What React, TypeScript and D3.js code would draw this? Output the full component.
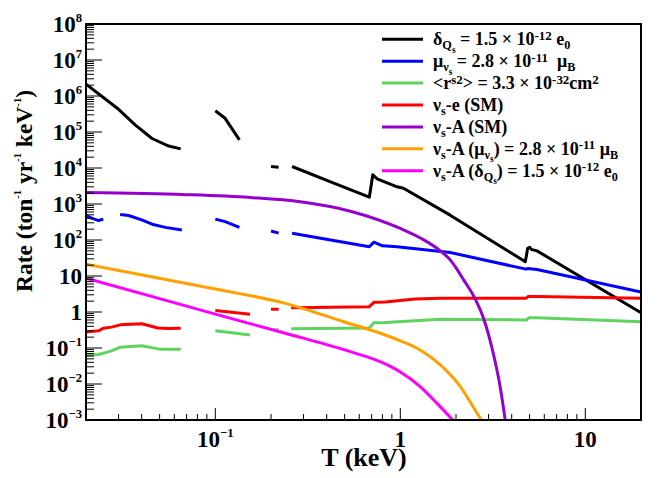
import * as d3 from 'd3';

type Pt = [number, number] | null;
type Part = [string, number];

const xDomain: [number, number] = [0.02, 20];
const yDomain: [number, number] = [1e-3, 1e8];
const xMajorTicks = [0.1, 1, 10];
const yMajorExps = [8, 7, 6, 5, 4, 3, 2, 1, 0, -1, -2, -3];

// [T (keV), rate]; null = gap in the curve
const chargeRate: Pt[] = [
  [0.02, 2.14e6], [0.03, 4.27e5], [0.037, 1.55e5], [0.0455, 6.6e4], [0.056, 4.07e4], [0.065, 3.39e4],
  null,
  [0.1, 3.89e5], [0.113, 2.4e5], [0.135, 6.03e4],
  null,
  [0.2, 1.1e4], [0.22, 1.05e4],
  null,
  [0.26, 1.1e4], [0.42, 4.1e3], [0.68, 1.55e3], [0.71, 6.5e3], [0.75, 5.0e3], [0.96, 3.0e3], [1.04, 2.75e3],
  [1.86, 490], [4.74, 25], [4.88, 59], [5.0, 63], [5.1, 55], [5.48, 50], [20, 0.95],
];

const momentRate: Pt[] = [
  [0.02, 479], [0.0216, 398], [0.0234, 347], [0.0248, 380],
  null,
  [0.0306, 513], [0.034, 479], [0.04, 363], [0.0455, 275], [0.0537, 224], [0.066, 190],
  null,
  [0.1, 380], [0.113, 324], [0.135, 224],
  null,
  [0.2, 178], [0.22, 155],
  null,
  [0.26, 155], [0.68, 65], [0.72, 87], [0.8, 69], [0.96, 65], [1.86, 45], [4.79, 15.5], [4.9, 16.2], [5.48, 15.1], [20, 3.6],
];

const radiusRate: Pt[] = [
  [0.02, 0.062], [0.0234, 0.066], [0.0275, 0.083], [0.0306, 0.105], [0.04, 0.115], [0.05, 0.093], [0.065, 0.093],
  null,
  [0.1, 0.3], [0.154, 0.23],
  null,
  [0.2, 0.32], [0.22, 0.32],
  null,
  [0.257, 0.34], [0.68, 0.36], [0.72, 0.5], [0.83, 0.51], [1.645, 0.63], [4.79, 0.6], [4.95, 0.69], [5.48, 0.69], [20, 0.54],
];

const electronSM: Pt[] = [
  [0.02, 0.28], [0.0234, 0.3], [0.0248, 0.355], [0.0275, 0.38], [0.0306, 0.44], [0.04, 0.47], [0.049, 0.36], [0.056, 0.35], [0.065, 0.355],
  null,
  [0.1, 1.1], [0.154, 0.87],
  null,
  [0.2, 1.2], [0.22, 1.2],
  null,
  [0.257, 1.32], [0.68, 1.41], [0.72, 1.86], [0.83, 1.9], [1.2, 2.3], [1.645, 2.4], [4.79, 2.4], [4.9, 2.7], [5.48, 2.7], [20, 2.4],
];

const nucleusSM: Pt[] = [
  [0.02, 2090], [0.069, 1820], [0.154, 1510], [0.288, 1150], [0.537, 630], [1.0, 209], [1.3, 110],
  [1.645, 50], [1.86, 28], [2.03, 15.1], [2.2, 7.8], [2.54, 2.3], [2.82, 0.66], [3.13, 0.1], [3.47, 0.008], [3.69, 0.001],
];

const nucleusMoment: Pt[] = [
  [0.02, 21.4], [0.1, 4.35], [0.239, 1.74], [0.504, 0.52], [0.83, 0.23], [1.0, 0.158], [1.28, 0.088], [1.645, 0.034],
  [2.11, 0.0085], [2.48, 0.0023], [2.74, 0.001],
];

const nucleusCharge: Pt[] = [
  [0.02, 8.7], [0.1, 0.87], [0.239, 0.257], [0.504, 0.087], [0.83, 0.036], [1.0, 0.0215], [1.28, 0.0085], [1.58, 0.0029], [1.92, 0.001],
];

const legendParts: Part[][] = [
  [['δ', 0], ['Q', -1], ['s', -2], [' = 1.5 × 10', 0], ['-12', 1], [' e', 0], ['0', -1]],
  [['μ', 0], ['ν', -1], ['s', -2], [' = 2.8 × 10', 0], ['-11', 1], ['  μ', 0], ['B', -1]],
  [['<r', 0], ['s2', 1], ['> = 3.3 × 10', 0], ['-32', 1], ['cm', 0], ['2', 1]],
  [['ν', 0], ['s', -1], ['-e (SM)', 0]],
  [['ν', 0], ['s', -1], ['-A (SM)', 0]],
  [['ν', 0], ['s', -1], ['-A (μ', 0], ['ν', -1], ['s', -2], [') = 2.8 × 10', 0], ['-11', 1], [' μ', 0], ['B', -1]],
  [['ν', 0], ['s', -1], ['-A (δ', 0], ['Q', -1], ['s', -2], [') = 1.5 × 10', 0], ['-12', 1], [' e', 0], ['0', -1]],
];

const series = [
  { data: chargeRate, color: '#000000', smooth: false },
  { data: momentRate, color: '#0000ff', smooth: false },
  { data: radiusRate, color: '#5fd35f', smooth: false },
  { data: electronSM, color: '#ff0000', smooth: false },
  { data: nucleusSM, color: '#9400cc', smooth: true },
  { data: nucleusMoment, color: '#ffa000', smooth: true },
  { data: nucleusCharge, color: '#ff00ff', smooth: true },
];

const FONT = "'Liberation Serif', 'Times New Roman', serif";

type Script = { supSize: number; supRise: number; subSize: number; subDrop: number };
const axisScript: Script = { supSize: 0.55, supRise: 0.42, subSize: 0.65, subDrop: 0.3 };
const titleScript: Script = { supSize: 0.45, supRise: 0.45, subSize: 0.65, subDrop: 0.3 };
const legendScript: Script = { supSize: 0.72, supRise: 0.3, subSize: 0.68, subDrop: 0.22 };

function Rich({ parts, size, sc = axisScript, ...rest }: { parts: Part[]; size: number; sc?: Script; [k: string]: any }) {
  let prev = 0;
  return (
    <text {...rest} fontSize={size} fontWeight="bold" style={{ whiteSpace: 'pre', fontFamily: FONT }}>
      {parts.map(([t, lvl], i) => {
        const off = lvl === 1 ? -sc.supRise : lvl === -1 ? sc.subDrop : lvl === -2 ? sc.subDrop + 0.2 : 0;
        const fs = lvl === 0 ? size : lvl === 1 ? size * sc.supSize : lvl === -1 ? size * sc.subSize : size * 0.52;
        const dy = (off - prev) * size;
        prev = off;
        return (
          <tspan key={i} dy={dy} fontSize={fs}>
            {t}
          </tspan>
        );
      })}
    </text>
  );
}

export default function App() {
  const width = 664;
  const height = 478;
  const left = 86, right = 641, top = 24, bottom = 420;

  const x = d3.scaleLog().domain(xDomain).range([left, right]);
  const y = d3.scaleLog().domain(yDomain).range([bottom, top]);

  const xMinor: number[] = [];
  for (let e = -2; e <= 1; e++) for (let m = 2; m <= 9; m++) {
    const v = m * Math.pow(10, e);
    if (v > xDomain[0] * 1.001 && v < xDomain[1]) xMinor.push(v);
  }
  const yMinor: number[] = [];
  for (let e = -3; e < 8; e++) for (let m = 2; m <= 9; m++) yMinor.push(m * Math.pow(10, e));

  const yLabel = (e: number): Part[] =>
    e === 0 ? [['1', 0]] : e === 1 ? [['10', 0]] : [['10', 0], [e < 0 ? `−${-e}` : `${e}`, 1]];
  const xLabel = (v: number): Part[] => (v === 0.1 ? [['10', 0], ['−1', 1]] : [[`${v}`, 0]]);

  const makeLine = (smooth: boolean) =>
    d3
      .line<Pt>()
      .defined((d) => d !== null)
      .x((d) => x(d![0]))
      .y((d) => y(d![1]))
      .curve(smooth ? d3.curveMonotoneX : d3.curveLinear);

  return (
    <svg width={width} height={height} style={{ position: 'absolute', left: 0, top: 0, background: '#fff' }}>
      <defs>
        <clipPath id="plot">
          <rect x={left} y={top} width={right - left} height={bottom - top} />
        </clipPath>
      </defs>
      <rect x={0} y={0} width={width} height={height} fill="#fff" />

      <g clipPath="url(#plot)">
        {series.map((s, i) => (
          <path key={i} d={makeLine(s.smooth)(s.data) ?? ''} fill="none" stroke={s.color} strokeWidth={3} strokeLinejoin="round" />
        ))}
      </g>

      {/* ticks drawn inside the frame */}
      <g stroke="#000" strokeWidth={1}>
        {xMajorTicks.map((v) => (
          <line key={v} x1={x(v)} x2={x(v)} y1={bottom} y2={bottom - 12} />
        ))}
        {xMinor.map((v) => (
          <line key={v} x1={x(v)} x2={x(v)} y1={bottom} y2={bottom - 6} />
        ))}
        {yMajorExps.map((e) => (
          <line key={e} x1={left} x2={left + 16} y1={y(Math.pow(10, e))} y2={y(Math.pow(10, e))} />
        ))}
        {yMinor.map((v, i) => (
          <line key={i} x1={left} x2={left + 8} y1={y(v)} y2={y(v)} />
        ))}
      </g>

      <rect x={left} y={top} width={right - left} height={bottom - top} fill="none" stroke="#000" strokeWidth={2} />

      {yMajorExps.map((e) => (
        <Rich key={e} parts={yLabel(e)} size={23} x={82} y={y(Math.pow(10, e)) + 8} textAnchor="end" />
      ))}
      {xMajorTicks.map((v) => (
        <Rich key={v} parts={xLabel(v)} size={23} x={x(v)} y={447} textAnchor="middle" />
      ))}

      <Rich parts={[['T (keV)', 0]]} size={26} x={364} y={466} textAnchor="middle" />
      <Rich
        parts={[['Rate (ton', 0], ['-1', 1], [' yr', 0], ['-1', 1], [' keV', 0], ['-1', 1], [')', 0]]}
        size={23.5}
        sc={titleScript}
        x={0}
        y={0}
        textAnchor="middle"
        transform="translate(32,191) rotate(-90)"
      />

      {legendParts.map((p, i) => {
        const ly = 39.3 + i * 21.9;
        return (
          <g key={i}>
            <line x1={382} x2={423} y1={ly} y2={ly} stroke={series[i].color} strokeWidth={3} />
            <Rich parts={p} size={18} sc={legendScript} x={433} y={ly + 6} />
          </g>
        );
      })}
    </svg>
  );
}
